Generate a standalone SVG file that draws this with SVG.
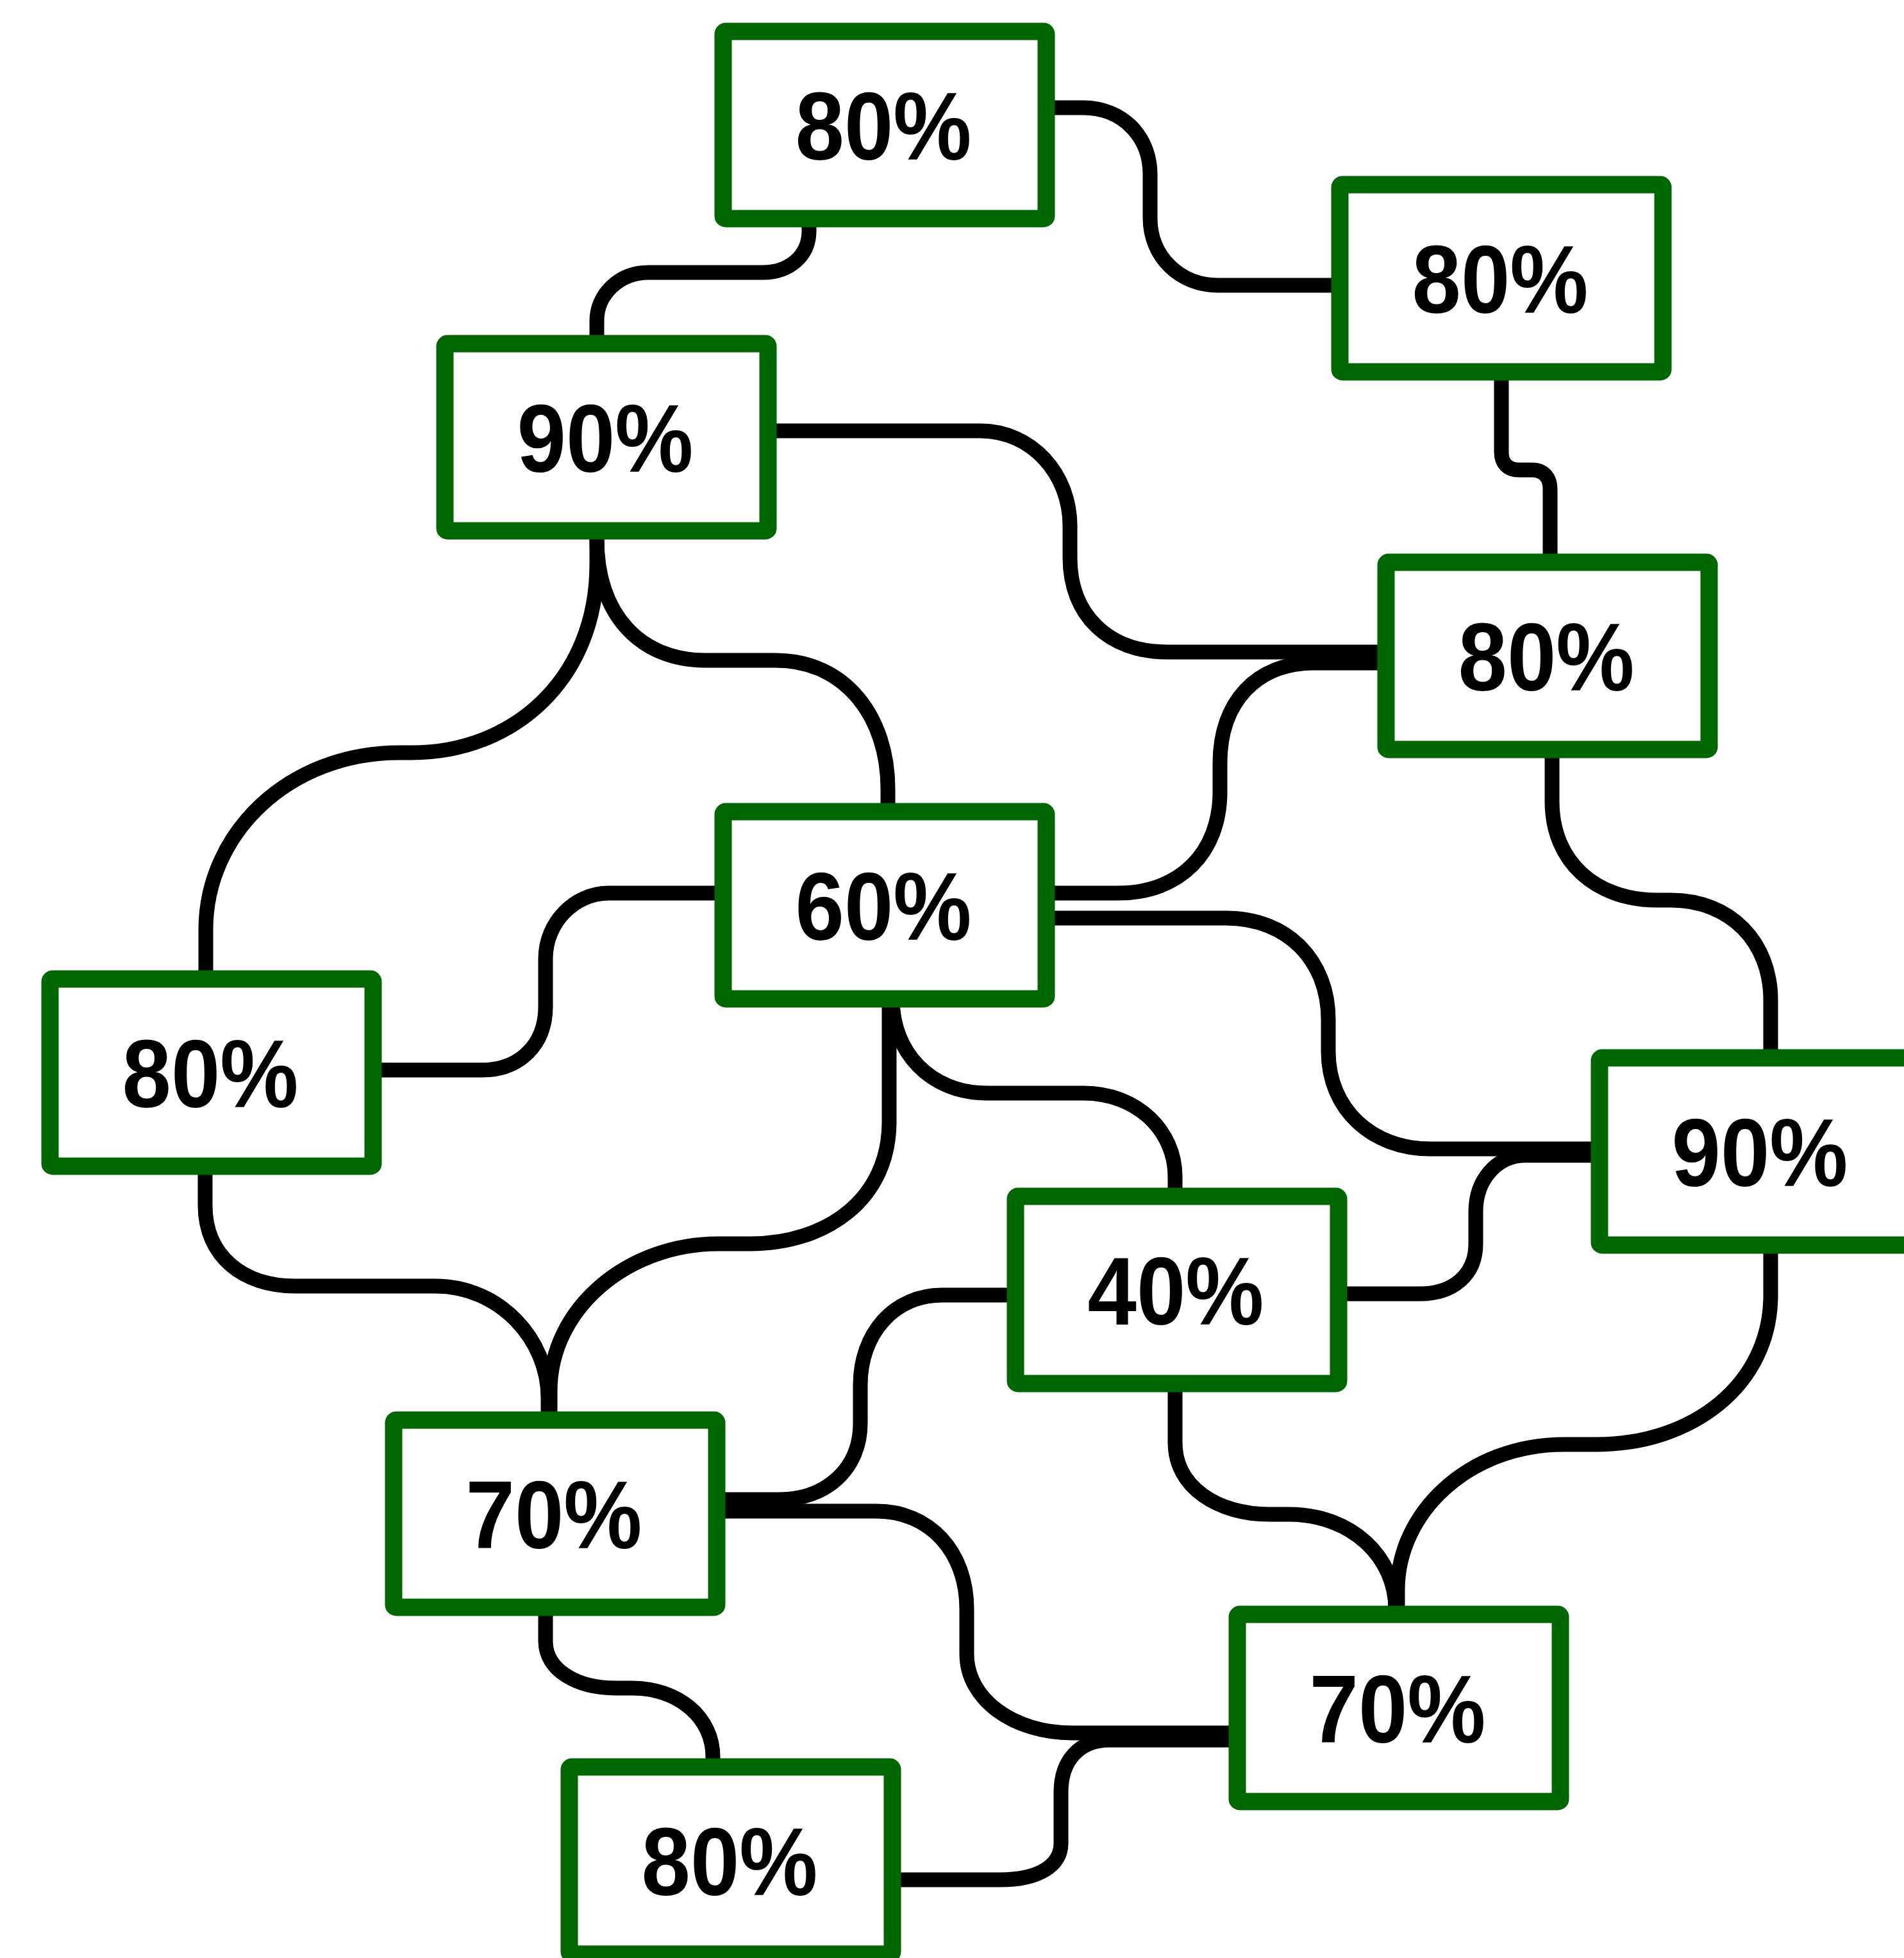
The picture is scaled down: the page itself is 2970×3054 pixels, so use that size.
<svg xmlns="http://www.w3.org/2000/svg" width="2970" height="3054" viewBox="0 0 2970 3054">
<style>
.box rect{fill:#fff;stroke:#006600;stroke-width:27;stroke-linejoin:round}
.box text{font-family:"Liberation Sans",Arial,sans-serif;font-weight:bold;font-size:150px;text-anchor:middle;fill:#000}
.conn path{fill:none;stroke:#000;stroke-width:23;stroke-linecap:butt}
</style>
<rect width="2970" height="3054" fill="#fff"/>
<g class="conn" id="connectors">
<path d="M1642 168 H1690 C1750 168 1794 212 1794 272 V340 C1794 400 1840 445 1900 445 H2090"/>
<path d="M1262 341 V360 C1262 400 1230 425 1190 425 H1012 C965 425 931 460 931 500 V536"/>
<path d="M1205 672 H1529 C1610 672 1669 740 1669 820 V870 C1669 960 1730 1017 1820 1017 H2162"/>
<path d="M2342 580 V705 C2342 723 2352 733 2370 733 H2390 C2408 733 2418 745 2418 763 V877"/>
<path d="M931 828 V880 C931 1060 800 1174 643 1174 H623 C450 1174 321 1300 321 1450 V1527"/>
<path d="M931 828 V840 C931 960 1000 1030 1100 1030 H1210 C1320 1030 1385 1120 1385 1230 V1266"/>
<path d="M1638 1393 H1745 C1840 1393 1903 1330 1903 1235 V1190 C1903 1095 1960 1034 2050 1034 H2162"/>
<path d="M2421 1169 V1250 C2421 1345 2490 1404 2585 1404 H2606 C2700 1404 2762 1470 2762 1560 V1650"/>
<path d="M1638 1432 H1912 C2010 1432 2072 1500 2072 1590 V1640 C2072 1730 2140 1792 2231 1792 H2495"/>
<path d="M2495 1802 H2380 C2335 1802 2302 1840 2302 1890 V1940 C2302 1990 2265 2018 2215 2018 H2088"/>
<path d="M1128 1393 H950 C895 1393 851 1440 851 1495 V1570 C851 1630 810 1669 752 1669 H582"/>
<path d="M1387 1558 V1750 C1387 1870 1290 1940 1170 1940 H1120 C980 1940 858 2040 858 2170 V2215"/>
<path d="M1392 1558 C1392 1640 1450 1705 1540 1705 H1690 C1775 1705 1833 1765 1833 1835 V1866"/>
<path d="M320 1819 V1880 C320 1960 380 2006 460 2006 H679 C780 2006 855 2090 855 2180 V2215"/>
<path d="M1584 2020 H1469 C1395 2020 1342 2080 1342 2160 V2220 C1342 2290 1290 2339 1214 2339 H1118"/>
<path d="M1118 2357 H1367 C1450 2357 1508 2420 1508 2510 V2580 C1508 2650 1580 2703 1673 2703 H1930"/>
<path d="M1930 2714 H1730 C1685 2714 1655 2745 1655 2795 V2875 C1655 2910 1620 2932 1560 2932 H1392"/>
<path d="M851 2507 V2560 C851 2605 900 2633 960 2633 H985 C1060 2633 1112 2680 1112 2740 V2756"/>
<path d="M1833 2158 V2250 C1833 2320 1900 2362 1980 2362 H2010 C2110 2362 2177 2430 2177 2510 V2518"/>
<path d="M2762 1942 V2020 C2762 2160 2640 2253 2490 2253 H2440 C2290 2253 2180 2360 2180 2480 V2518"/>
</g>
<g class="box" id="n1"><rect x="1128" y="49" width="504" height="292" rx="4"/><text x="1378" y="249" textLength="275" lengthAdjust="spacingAndGlyphs">80%</text></g>
<g class="box" id="n2"><rect x="2090" y="288" width="504" height="292" rx="4"/><text x="2340" y="488" textLength="275" lengthAdjust="spacingAndGlyphs">80%</text></g>
<g class="box" id="n3"><rect x="694" y="536" width="504" height="292" rx="4"/><text x="944" y="736" textLength="275" lengthAdjust="spacingAndGlyphs">90%</text></g>
<g class="box" id="n4"><rect x="2162" y="877" width="504" height="292" rx="4"/><text x="2412" y="1077" textLength="275" lengthAdjust="spacingAndGlyphs">80%</text></g>
<g class="box" id="n5"><rect x="1128" y="1266" width="504" height="292" rx="4"/><text x="1378" y="1466" textLength="275" lengthAdjust="spacingAndGlyphs">60%</text></g>
<g class="box" id="n6"><rect x="78" y="1527" width="504" height="292" rx="4"/><text x="328" y="1727" textLength="275" lengthAdjust="spacingAndGlyphs">80%</text></g>
<g class="box" id="n7"><rect x="2495" y="1650" width="504" height="292" rx="4"/><text x="2745" y="1850" textLength="275" lengthAdjust="spacingAndGlyphs">90%</text></g>
<g class="box" id="n8"><rect x="1584" y="1866" width="504" height="292" rx="4"/><text x="1834" y="2066" textLength="275" lengthAdjust="spacingAndGlyphs">40%</text></g>
<g class="box" id="n9"><rect x="614" y="2215" width="504" height="292" rx="4"/><text x="864" y="2415" textLength="275" lengthAdjust="spacingAndGlyphs">70%</text></g>
<g class="box" id="n10"><rect x="1930" y="2518" width="504" height="292" rx="4"/><text x="2180" y="2718" textLength="275" lengthAdjust="spacingAndGlyphs">70%</text></g>
<g class="box" id="n11"><rect x="888" y="2756" width="504" height="292" rx="4"/><text x="1138" y="2956" textLength="275" lengthAdjust="spacingAndGlyphs">80%</text></g>
</svg>
